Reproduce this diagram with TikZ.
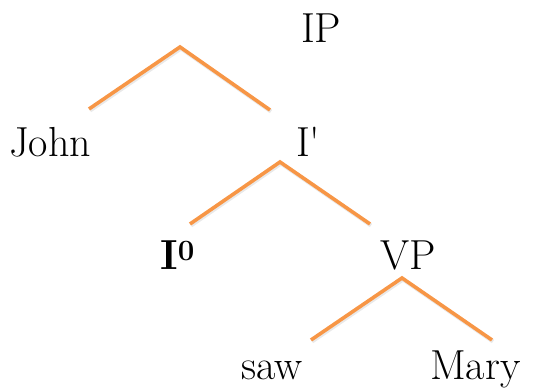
\documentclass[tikz,border=0pt]{standalone}
\usepackage{tikz}
\usetikzlibrary{positioning,calc}
\definecolor{branch}{HTML}{F79646}

\begin{document}
\begin{tikzpicture}[
      x=1pt, y=1pt,
      word/.style={
        anchor=base west,
        inner sep=0,
        font=\fontsize{42}{46}\selectfont,
      },
      arm/.style={
        branch,
        line width=3.6,
        line cap=butt,
      },
      armshadow/.style={
        black!25,
        line width=4,
        opacity=0.35,
      }
      ]
      \useasboundingbox (0,0) rectangle (544,390);
      % labels
      \node[word] (ip) at (301,347) {IP};
      \node[word] (john) at (9,233) {John};
      \node[word] (ibar) at (296,233) {I\textquotesingle};
      \node[word] (izero) at (160,120) {\textbf{I\textsuperscript{0}}};
      \node[word] (vp) at (380,120) {VP};
      \node[word] (saw) at (241,10) {saw};
      \node[word] (mary) at (430,10) {Mary};
      % wedge ends
      \coordinate (ipTop) at (180,343);
      \coordinate (ipL) at (89,281);
      \coordinate (ipR) at (270,280);
      \coordinate (ibarTop) at (280,228);
      \coordinate (ibarL) at (190,166);
      \coordinate (ibarR) at (370,166);
      \coordinate (vpTop) at (402,112);
      \coordinate (vpL) at (311,50);
      \coordinate (vpR) at (492,50);
      % branches
      \foreach \t in {ip,ibar,vp} {
        \draw[armshadow] ($(\t L)+(1,-1.5)$) -- ($(\t Top)+(1,-1.5)$) -- ($(\t R)+(1,-1.5)$);
        \draw[arm] (\t L) -- (\t Top) -- (\t R);
      }
\end{tikzpicture}
\end{document}
